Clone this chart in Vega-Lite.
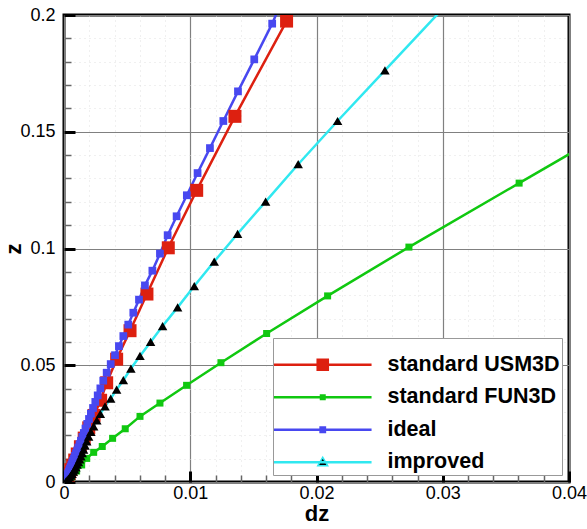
{
  "$schema": "https://vega.github.io/schema/vega-lite/v6.json",
  "width": 505,
  "height": 467,
  "autosize": {"type": "none"},
  "padding": {"left": 64, "top": 15, "right": 18, "bottom": 47},
  "background": "white",
  "config": {
    "font": "Liberation Sans",
    "view": {"stroke": "black", "strokeWidth": 3},
    "axis": {"labelFont": "Liberation Sans", "titleFont": "Liberation Sans", "labelColor": "black", "titleColor": "black"}
  },
  "data": {"values": [
    {"s":"standard USM3D","dz":0.0222,"z":0.249},{"s":"standard USM3D","dz":0.01763,"z":0.1974},{"s":"standard USM3D","dz":0.01354,"z":0.1566},{"s":"standard USM3D","dz":0.01051,"z":0.1249},{"s":"standard USM3D","dz":0.00826,"z":0.1003},{"s":"standard USM3D","dz":0.00657,"z":0.0805},{"s":"standard USM3D","dz":0.00523,"z":0.0648},{"s":"standard USM3D","dz":0.00417,"z":0.0526},{"s":"standard USM3D","dz":0.00338,"z":0.0425},{"s":"standard USM3D","dz":0.0029,"z":0.035},{"s":"standard USM3D","dz":0.00238,"z":0.0285},{"s":"standard USM3D","dz":0.00196,"z":0.0232},{"s":"standard USM3D","dz":0.0016,"z":0.0188},{"s":"standard USM3D","dz":0.0013,"z":0.0151},{"s":"standard USM3D","dz":0.00105,"z":0.012},{"s":"standard USM3D","dz":0.00085,"z":0.0094},{"s":"standard USM3D","dz":0.00068,"z":0.0072},{"s":"standard USM3D","dz":0.00054,"z":0.0053},{"s":"standard USM3D","dz":0.00042,"z":0.0037},{"s":"standard USM3D","dz":0.00032,"z":0.0023},{"s":"standard USM3D","dz":0.00022,"z":0.0011},{"s":"standard USM3D","dz":0.00012,"z":0.0002},
    {"s":"standard FUN3D","dz":0.0469,"z":0.162},{"s":"standard FUN3D","dz":0.03605,"z":0.128},{"s":"standard FUN3D","dz":0.02732,"z":0.1006},{"s":"standard FUN3D","dz":0.02088,"z":0.0797},{"s":"standard FUN3D","dz":0.01605,"z":0.0636},{"s":"standard FUN3D","dz":0.01243,"z":0.0511},{"s":"standard FUN3D","dz":0.00971,"z":0.0414},{"s":"standard FUN3D","dz":0.0076,"z":0.0338},{"s":"standard FUN3D","dz":0.00602,"z":0.0281},{"s":"standard FUN3D","dz":0.00485,"z":0.0228},{"s":"standard FUN3D","dz":0.00385,"z":0.0187},{"s":"standard FUN3D","dz":0.00303,"z":0.0152},{"s":"standard FUN3D","dz":0.00235,"z":0.0127},{"s":"standard FUN3D","dz":0.0018,"z":0.0101},{"s":"standard FUN3D","dz":0.0014,"z":0.0073},{"s":"standard FUN3D","dz":0.001,"z":0.0047},{"s":"standard FUN3D","dz":0.0006,"z":0.0022},{"s":"standard FUN3D","dz":0.0002,"z":0.0003},
    {"s":"ideal","dz":0.0178,"z":0.2128},{"s":"ideal","dz":0.01649,"z":0.1963},{"s":"ideal","dz":0.01507,"z":0.181},{"s":"ideal","dz":0.01378,"z":0.1673},{"s":"ideal","dz":0.01262,"z":0.1546},{"s":"ideal","dz":0.01156,"z":0.143},{"s":"ideal","dz":0.01058,"z":0.1323},{"s":"ideal","dz":0.00973,"z":0.1228},{"s":"ideal","dz":0.00892,"z":0.1138},{"s":"ideal","dz":0.00821,"z":0.1057},{"s":"ideal","dz":0.0076,"z":0.0978},{"s":"ideal","dz":0.007,"z":0.0905},{"s":"ideal","dz":0.00641,"z":0.0842},{"s":"ideal","dz":0.00594,"z":0.0781},{"s":"ideal","dz":0.00549,"z":0.0725},{"s":"ideal","dz":0.00509,"z":0.0674},{"s":"ideal","dz":0.0047,"z":0.0625},{"s":"ideal","dz":0.00435,"z":0.0582},{"s":"ideal","dz":0.00404,"z":0.0543},{"s":"ideal","dz":0.0037,"z":0.0505},{"s":"ideal","dz":0.00338,"z":0.0468},{"s":"ideal","dz":0.00311,"z":0.0434},{"s":"ideal","dz":0.00288,"z":0.0401},{"s":"ideal","dz":0.00267,"z":0.0371},{"s":"ideal","dz":0.00248,"z":0.0343},{"s":"ideal","dz":0.0023,"z":0.0317},{"s":"ideal","dz":0.00213,"z":0.0293},{"s":"ideal","dz":0.00198,"z":0.027},{"s":"ideal","dz":0.00184,"z":0.0249},{"s":"ideal","dz":0.0017,"z":0.0229},{"s":"ideal","dz":0.00157,"z":0.021},{"s":"ideal","dz":0.00145,"z":0.0193},{"s":"ideal","dz":0.00134,"z":0.0177},{"s":"ideal","dz":0.00123,"z":0.0162},{"s":"ideal","dz":0.00113,"z":0.0148},{"s":"ideal","dz":0.00104,"z":0.0135},{"s":"ideal","dz":0.00095,"z":0.0123},{"s":"ideal","dz":0.00087,"z":0.0112},{"s":"ideal","dz":0.00079,"z":0.0101},{"s":"ideal","dz":0.00072,"z":0.0091},{"s":"ideal","dz":0.00065,"z":0.0082},{"s":"ideal","dz":0.00059,"z":0.0073},{"s":"ideal","dz":0.00053,"z":0.0065},{"s":"ideal","dz":0.00047,"z":0.0057},{"s":"ideal","dz":0.00042,"z":0.005},{"s":"ideal","dz":0.00037,"z":0.0043},{"s":"ideal","dz":0.00032,"z":0.0036},{"s":"ideal","dz":0.00028,"z":0.003},{"s":"ideal","dz":0.00024,"z":0.0024},{"s":"ideal","dz":0.0002,"z":0.0019},{"s":"ideal","dz":0.00017,"z":0.0014},{"s":"ideal","dz":0.00014,"z":0.001},{"s":"ideal","dz":0.00012,"z":0.0006},{"s":"ideal","dz":0.0001,"z":0.0003},{"s":"ideal","dz":0.0001,"z":0.0001},
    {"s":"improved","dz":0.0304,"z":0.205},{"s":"improved","dz":0.02542,"z":0.1763},{"s":"improved","dz":0.02167,"z":0.1546},{"s":"improved","dz":0.01855,"z":0.1361},{"s":"improved","dz":0.01597,"z":0.1201},{"s":"improved","dz":0.01375,"z":0.1063},{"s":"improved","dz":0.0119,"z":0.0944},{"s":"improved","dz":0.01032,"z":0.0839},{"s":"improved","dz":0.009,"z":0.0748},{"s":"improved","dz":0.00781,"z":0.0668},{"s":"improved","dz":0.00686,"z":0.06},{"s":"improved","dz":0.00602,"z":0.054},{"s":"improved","dz":0.0053,"z":0.0486},{"s":"improved","dz":0.0047,"z":0.0436},{"s":"improved","dz":0.00417,"z":0.0396},{"s":"improved","dz":0.0037,"z":0.0357},{"s":"improved","dz":0.00325,"z":0.0324},{"s":"improved","dz":0.00288,"z":0.0292},{"s":"improved","dz":0.0026,"z":0.0264},{"s":"improved","dz":0.00235,"z":0.0238},{"s":"improved","dz":0.00213,"z":0.0215},{"s":"improved","dz":0.00195,"z":0.0194},{"s":"improved","dz":0.0018,"z":0.0174},{"s":"improved","dz":0.00167,"z":0.0156},{"s":"improved","dz":0.00155,"z":0.0139},{"s":"improved","dz":0.00144,"z":0.0124},{"s":"improved","dz":0.00134,"z":0.011},{"s":"improved","dz":0.00124,"z":0.0097},{"s":"improved","dz":0.00114,"z":0.0085},{"s":"improved","dz":0.00104,"z":0.0074},{"s":"improved","dz":0.00094,"z":0.0063},{"s":"improved","dz":0.00084,"z":0.0053},{"s":"improved","dz":0.00074,"z":0.0044},{"s":"improved","dz":0.00064,"z":0.0035},{"s":"improved","dz":0.00054,"z":0.0027},{"s":"improved","dz":0.00044,"z":0.002},{"s":"improved","dz":0.00034,"z":0.0013},{"s":"improved","dz":0.00024,"z":0.0007},{"s":"improved","dz":0.00014,"z":0.0002}
  ]},
  "layer": [
    {
      "mark": {"type": "line", "strokeWidth": 2.5, "clip": true},
      "encoding": {
        "x": {"field": "dz", "type": "quantitative",
          "scale": {"domain": [0, 0.04], "nice": false, "zero": false},
          "axis": {"orient": "bottom", "values": [0, 0.01, 0.02, 0.03, 0.04], "format": "~g", "domain": false,
            "grid": true, "gridColor": "#808080", "gridWidth": 1.2,
            "tickColor": "black", "tickWidth": 3, "tickSize": -11, "labelPadding": 13,
            "labelFontSize": 18, "labelFlush": false, "labelOverlap": false,
            "title": "dz", "titleFontSize": 22, "titleFontWeight": "bold", "titlePadding": 1}},
        "y": {"field": "z", "type": "quantitative",
          "scale": {"domain": [0, 0.2], "nice": false, "zero": false},
          "axis": {"orient": "left", "values": [0, 0.05, 0.1, 0.15, 0.2], "format": "~g", "domain": false,
            "grid": true, "gridColor": "#808080", "gridWidth": 1.2,
            "tickColor": "black", "tickWidth": 3, "tickSize": -11, "labelPadding": 20,
            "labelFontSize": 18, "labelFlush": false, "labelOverlap": false,
            "title": "z", "titleFontSize": 22, "titleFontWeight": "bold", "titlePadding": -6}},
        "order": {"field": "z", "type": "quantitative"},
        "color": {"field": "s", "type": "nominal",
          "scale": {"domain": ["standard USM3D", "standard FUN3D", "ideal", "improved"],
                    "range": ["#dd2010", "#10c810", "#4848f0", "#30e8f0"]},
          "legend": {
            "orient": "none", "legendX": 209, "legendY": 323,
            "title": " ", "titleFontSize": 10, "titlePadding": 4,
            "padding": 2, "fillColor": "white", "strokeColor": "#999999",
            "labelFont": "Liberation Sans", "labelFontSize": 21.5, "labelFontWeight": "bold", "labelColor": "black", "labelLimit": 400,
            "labelOffset": 54, "symbolOffset": 37, "rowPadding": 9.5,
            "symbolSize": 256, "symbolStrokeWidth": 2.5,
            "encode": {"symbols": {"update": {
              "shape": {"signal": "datum.value === 'standard USM3D' ? 'M-6.1,0H6.1M-0.63,-0.63H0.63V0.63H-0.63Z' : datum.value === 'standard FUN3D' ? 'M-6.1,0H6.1M-0.22,-0.22H0.22V0.22H-0.22Z' : datum.value === 'ideal' ? 'M-6.1,0H6.1M-0.27,-0.27H0.27V0.27H-0.27Z' : 'M-6.1,-0.07H6.1M-6.1,0.07H6.1M0,-0.62L0.62,0.45H-0.62Z'"},
              "fill": {"signal": "datum.value === 'standard USM3D' ? '#dd2010' : datum.value === 'standard FUN3D' ? '#10c810' : datum.value === 'ideal' ? '#4848f0' : '#000000'"},
              "stroke": {"signal": "datum.value === 'standard USM3D' ? '#dd2010' : datum.value === 'standard FUN3D' ? '#10c810' : datum.value === 'ideal' ? '#4848f0' : '#30e8f0'"},
              "strokeWidth": {"signal": "datum.value === 'improved' ? 1.5 : 2.5"},
              "size": {"value": 256},
              "opacity": {"value": 1}
            }}}
          }}
      }
    },
    {
      "transform": [{"filter": "datum.s === 'standard USM3D'"}],
      "mark": {"type": "point", "filled": true, "opacity": 1, "clip": true, "shape": "square", "size": 169, "color": "#dd2010"},
      "encoding": {
        "x": {"field": "dz", "type": "quantitative",
          "axis": {"orient": "bottom", "values": [0.002,0.004,0.006,0.008,0.012,0.014,0.016,0.018,0.022,0.024,0.026,0.028,0.032,0.034,0.036,0.038],
            "labels": false, "domain": false, "title": null,
            "grid": true, "gridColor": "#e0e0e0", "gridDash": [1, 4], "gridWidth": 1,
            "tickColor": "#666666", "tickWidth": 1.5, "tickSize": -7}},
        "y": {"field": "z", "type": "quantitative",
          "axis": {"orient": "left", "values": [0.01,0.02,0.03,0.04,0.06,0.07,0.08,0.09,0.11,0.12,0.13,0.14,0.16,0.17,0.18,0.19],
            "labels": false, "domain": false, "title": null,
            "grid": true, "gridColor": "#e0e0e0", "gridDash": [1, 4], "gridWidth": 1,
            "tickColor": "#666666", "tickWidth": 1.5, "tickSize": -7}}
      }
    },
    {
      "transform": [{"filter": "datum.s === 'standard FUN3D'"}],
      "mark": {"type": "point", "filled": true, "opacity": 1, "clip": true, "shape": "square", "size": 49, "color": "#10c810"},
      "encoding": {
        "x": {"field": "dz", "type": "quantitative", "axis": null},
        "y": {"field": "z", "type": "quantitative", "axis": null}
      }
    },
    {
      "transform": [{"filter": "datum.s === 'ideal'"}],
      "mark": {"type": "point", "filled": true, "opacity": 1, "clip": true, "shape": "square", "size": 60, "color": "#4848f0"},
      "encoding": {
        "x": {"field": "dz", "type": "quantitative", "axis": null},
        "y": {"field": "z", "type": "quantitative", "axis": null}
      }
    },
    {
      "transform": [{"filter": "datum.s === 'improved'"}],
      "mark": {"type": "point", "filled": true, "opacity": 1, "clip": true, "shape": "triangle-up", "size": 90, "color": "#000000"},
      "encoding": {
        "x": {"field": "dz", "type": "quantitative", "axis": null},
        "y": {"field": "z", "type": "quantitative", "axis": null}
      }
    }
  ],
  "resolve": {"axis": {"x": "independent", "y": "independent"}}
}
